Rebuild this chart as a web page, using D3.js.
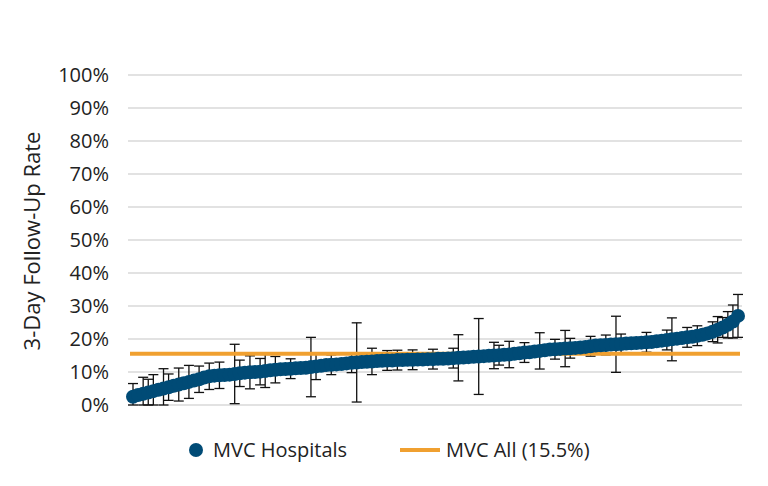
<!DOCTYPE html>
<html><head><meta charset="utf-8">
<script src="https://cdn.jsdelivr.net/npm/d3@7"></script>
<style>body{margin:0;background:#fff;font-family:"Open Sans",sans-serif;}</style>
</head><body><div class="main"></div>
<script>
const WIDTH = 768, HEIGHT = 486;
const rates = [
  2.5,3,3.4,3.8,4.2,4.6,5,5.4,5.8,6.2,6.6,7,7.4,
  7.8,8.3,8.7,8.9,9,9.1,9.2,9.4,9.6,9.8,9.9,10,10.1,
  10.3,10.5,10.7,10.8,10.9,11,11.1,11.2,11.3,11.5,11.7,11.9,12.1,
  12.2,12.3,12.4,12.6,12.8,12.9,13,13.1,13.2,13.3,13.4,13.5,13.5,
  13.6,13.6,13.7,13.7,13.8,13.8,13.9,13.9,14,14,14.1,14.2,14.3,
  14.4,14.5,14.6,14.7,14.8,14.9,15,15.1,15.2,15.3,15.5,15.7,15.9,
  16,16.2,16.4,16.6,16.8,16.9,17,17.1,17.2,17.3,17.4,17.6,17.8,
  18,18.1,18.2,18.3,18.4,18.5,18.6,18.7,18.8,18.9,19,19.1,19.3,
  19.5,19.7,19.9,20.1,20.3,20.5,20.7,21,21.3,21.7,22.2,22.8,23.5,24.3,25.3,27
];
const errHalf = [
  4,1.5,5,4,5,1.5,6,4,1.5,5,1.5,5,1.5,
  4,1.5,4,1.5,4,1.5,1.5,9,4,1.5,5,1.5,4,
  5,1.5,4,1.5,1.5,3,1.5,1.5,1.5,9,4,1.5,1.5,
  3,1.5,1.5,1.5,3,12,1.5,1.5,4,1.5,1.5,3,1.5,
  3,1.5,1.5,3,1.5,1.5,1.5,3,1.5,1.5,1.5,3,7,
  1.5,1.5,1.5,11.5,1.5,1.5,4,3,1.5,4,1.5,1.5,3,
  1.5,1.5,5.5,1.5,1.5,3,1.5,5.5,3,1.5,1.5,1.5,3,
  1.5,1.5,3,1.5,8.5,3,1.5,1.5,1.5,1.5,3,1.5,1.5,
  1.5,3,6.5,1.5,1.5,3,1.5,3,1.5,1.5,3,4,3,4,5,6.5
];
const overall = 15.5;
const yTicks = [0,10,20,30,40,50,60,70,80,90,100];

const svg = d3.select(".main").append("svg").attr("width", WIDTH).attr("height", HEIGHT);
const x = d3.scaleLinear().domain([0, rates.length - 1]).range([133, 738]);
const y = d3.scaleLinear().domain([0, 100]).range([405, 75]);

svg.append("g").selectAll("line").data(yTicks).join("line")
  .attr("x1", 128).attr("x2", 742).attr("y1", d => y(d)).attr("y2", d => y(d))
  .attr("stroke", "#d9d9d9").attr("stroke-width", 1.3);
svg.append("g").selectAll("text").data(yTicks).join("text")
  .attr("x", 109).attr("y", d => y(d) + 7).attr("text-anchor", "end")
  .attr("font-size", 20).attr("fill", "#222").text(d => d + "%");
svg.append("text").attr("transform", "translate(40,241) rotate(-90)")
  .attr("text-anchor", "middle").attr("font-size", 22).attr("fill", "#222")
  .text("3-Day Follow-Up Rate");

// error bars
const eb = svg.append("g").attr("stroke", "#111").attr("stroke-width", 1.3);
rates.forEach((r, i) => {
  const lo = Math.max(0, r - errHalf[i]), hi = r + errHalf[i];
  eb.append("line").attr("x1", x(i)).attr("x2", x(i)).attr("y1", y(lo)).attr("y2", y(hi));
  [lo, hi].forEach(v => eb.append("line").attr("x1", x(i) - 5).attr("x2", x(i) + 5)
    .attr("y1", y(v)).attr("y2", y(v)));
});

svg.append("line").attr("x1", 130).attr("x2", 740)
  .attr("y1", y(overall)).attr("y2", y(overall))
  .attr("stroke", "#F0A030").attr("stroke-width", 4);

svg.append("g").selectAll("circle").data(rates).join("circle")
  .attr("cx", (d, i) => x(i)).attr("cy", d => y(d)).attr("r", 7)
  .attr("fill", "#004B76");

// legend
svg.append("circle").attr("cx", 196).attr("cy", 450).attr("r", 7).attr("fill", "#004B76");
svg.append("text").attr("x", 213).attr("y", 457).attr("font-size", 20).attr("fill", "#222").text("MVC Hospitals");
svg.append("line").attr("x1", 400).attr("x2", 440).attr("y1", 450).attr("y2", 450)
  .attr("stroke", "#F0A030").attr("stroke-width", 4);
svg.append("text").attr("x", 446).attr("y", 457).attr("font-size", 20).attr("fill", "#222").text("MVC All (" + overall + "%)");
</script></body></html>
